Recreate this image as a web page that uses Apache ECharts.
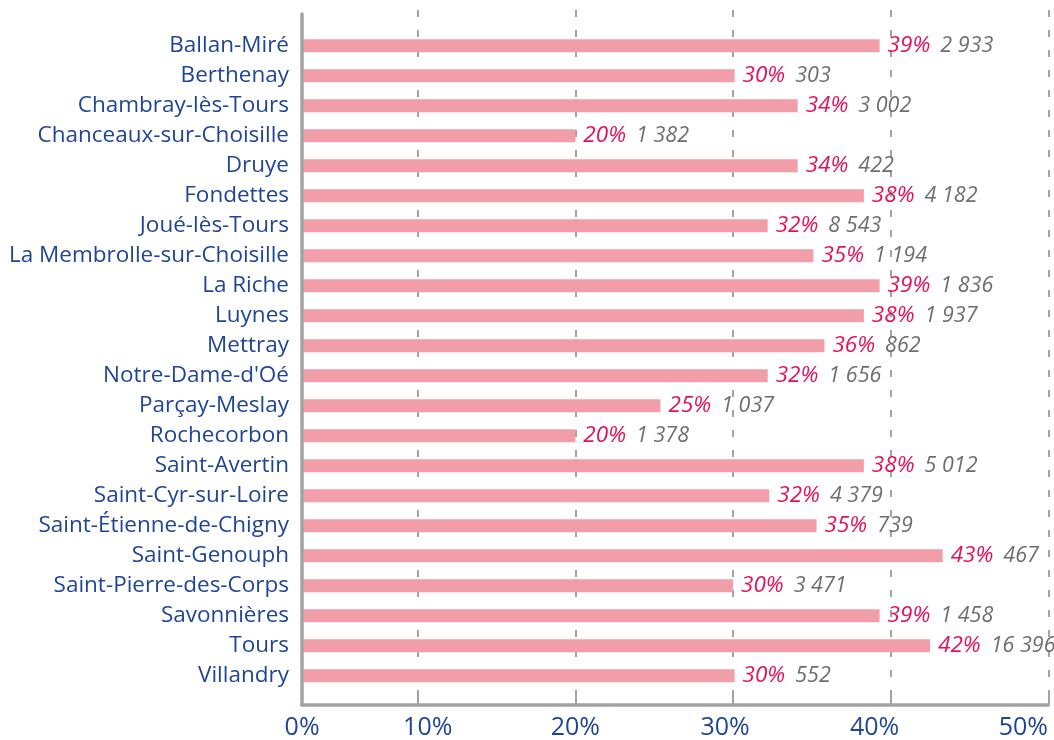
<!DOCTYPE html>
<html>
<head>
<meta charset="utf-8">
<script src="https://cdn.jsdelivr.net/npm/echarts@6/dist/echarts.min.js"></script>
<style>
html,body{margin:0;padding:0;background:#fff;}
#chart{width:1054px;height:740px;}
</style>
</head>
<body>
<div id="chart"></div>
<script>
const categories = ['Ballan-Miré','Berthenay','Chambray-lès-Tours','Chanceaux-sur-Choisille','Druye','Fondettes','Joué-lès-Tours','La Membrolle-sur-Choisille','La Riche','Luynes','Mettray','Notre-Dame-d\'Oé','Parçay-Meslay','Rochecorbon','Saint-Avertin','Saint-Cyr-sur-Loire','Saint-Étienne-de-Chigny','Saint-Genouph','Saint-Pierre-des-Corps','Savonnières','Tours','Villandry'];
const barValues = [39.3, 30.1, 34.1, 20.0, 34.1, 38.3, 32.2, 35.1, 39.3, 38.3, 35.8, 32.2, 25.4, 20.0, 38.3, 32.3, 35.3, 43.3, 30.0, 39.3, 42.5, 30.1];
const pctLabels = ['39%','30%','34%','20%','34%','38%','32%','35%','39%','38%','36%','32%','25%','20%','38%','32%','35%','43%','30%','39%','42%','30%'];
const counts = ['2 933','303','3 002','1 382','422','4 182','8 543','1 194','1 836','1 937','862','1 656','1 037','1 378','5 012','4 379','739','467','3 471','1 458','16 396','552'];
const tickValues = [0, 10, 20, 30, 40, 50];
const tickLabels = ['0%', '10%', '20%', '30%', '40%', '50%'];

const FONT = '"Open Sans", Lato, sans-serif';
const BLUE = '#1f4595';
const AXIS_GRAY = '#a3a3a3';
// horizontal shifts of each tick label (style only)
const labelPad = [[0,0,0,84],[0,0,0,20],[0,0,0,0],[0,16,0,0],[0,32,0,0],[0,50,0,0]];
const rich = {};
tickValues.forEach((v, i) => {
  rich['t' + i] = {fontSize: 25, color: BLUE, fontFamily: FONT, padding: labelPad[i]};
});

const chart = echarts.init(document.getElementById('chart'), null, {renderer: 'canvas'});
chart.setOption({
  animation: false,
  backgroundColor: '#ffffff',
  grid: [
    {left: 302, right: 5.7, top: 30.7, bottom: 49.3, containLabel: false},
    {left: 302, right: 5.7, top: 14, bottom: 35, containLabel: false},
    {left: 260.1, right: 5.7, top: 10, bottom: 35, containLabel: false}
  ],
  xAxis: [
    {gridIndex: 0, type: 'value', min: 2.66, max: 50, show: false},
    {gridIndex: 1, type: 'value', min: 0, max: 1, z: 10,
      axisLine: {show: true, lineStyle: {color: AXIS_GRAY, width: 3.5}},
      axisTick: {show: false}, axisLabel: {show: false}, splitLine: {show: false}},
    {gridIndex: 2, type: 'value', min: 0, max: 50, interval: 10,
      axisLine: {show: false},
      axisTick: {show: true, inside: true, length: 8, customValues: tickValues.slice(1),
        lineStyle: {color: AXIS_GRAY, width: 2}},
      axisLabel: {show: true, margin: 11, customValues: tickValues,
        formatter: function (v) {
          const i = tickValues.indexOf(v);
          return i < 0 ? '' : '{t' + i + '|' + tickLabels[i] + '}';
        },
        rich: rich},
      splitLine: {show: true, showMinLine: true, showMaxLine: true,
        lineStyle: {color: AXIS_GRAY, width: 2, type: [7, 13]}}}
  ],
  yAxis: [
    {gridIndex: 0, type: 'category', data: categories, inverse: true,
      axisLine: {show: false}, axisTick: {show: false},
      axisLabel: {margin: 13, fontSize: 22.5, color: BLUE, fontFamily: FONT}},
    {gridIndex: 1, type: 'value', min: 0, max: 1, z: 10,
      axisLine: {show: true, lineStyle: {color: AXIS_GRAY, width: 3.5}},
      axisTick: {show: false}, axisLabel: {show: false}, splitLine: {show: false}},
    {gridIndex: 2, type: 'value', show: false, splitLine: {show: false}}
  ],
  series: [{
    type: 'bar',
    xAxisIndex: 0, yAxisIndex: 0,
    data: barValues,
    barWidth: 13,
    itemStyle: {color: '#f29ea9'},
    label: {
      show: true, position: 'right', distance: 8,
      formatter: function (p) {
        return '{p|' + pctLabels[p.dataIndex] + '}{n|' + counts[p.dataIndex] + '}';
      },
      rich: {
        p: {fontSize: 22.5, fontStyle: 'italic', color: '#e3105b', fontFamily: FONT},
        n: {fontSize: 21.5, fontStyle: 'italic', color: '#6e6e6e', fontFamily: FONT, padding: [0, 0, 0, 10]}
      }
    }
  }]
});
</script>
</body>
</html>
